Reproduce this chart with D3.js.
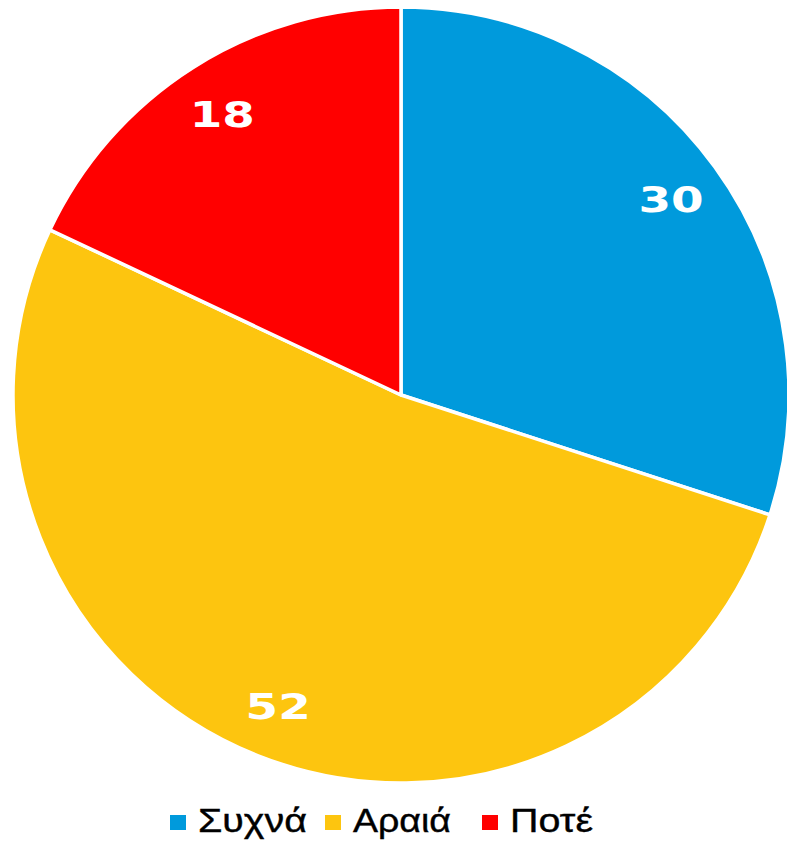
<!DOCTYPE html>
<html><head><meta charset="utf-8">
<script src="https://cdn.jsdelivr.net/npm/d3@7/dist/d3.min.js"></script>
<style>html,body{margin:0;padding:0;background:#fff;overflow:hidden}</style>
</head><body>
<svg id="chart" width="787" height="843"></svg>
<script>
const categories = ["Συχνά", "Αραιά", "Ποτέ"];
const values = [30, 52, 18];
const colors = ["#009ADC", "#FDC50F", "#FF0000"];

const svg = d3.select("#chart");
const cx = 401, cy = 395, R = 388;
const g = svg.append("g").attr("transform", `translate(${cx},${cy})`);
const pie = d3.pie().sort(null).value(d => d)(values);
const arc = d3.arc().innerRadius(0).outerRadius(R);
const labelArc = d3.arc().innerRadius(R * 0.86).outerRadius(R * 0.86);

g.selectAll("path").data(pie).join("path")
  .attr("d", arc)
  .attr("fill", (d, i) => colors[i])
  .attr("stroke", "#fff")
  .attr("stroke-width", 3.5)
  .attr("stroke-linejoin", "round");

g.selectAll("text.lbl").data(pie).join("text")
  .attr("class", "lbl")
  .attr("transform", d => { const [x, y] = labelArc.centroid(d); return `translate(${x},${y + 1}) scale(1.3,1)`; })
  .attr("text-anchor", "middle")
  .attr("dominant-baseline", "central")
  .attr("font-family", "DejaVu Sans, sans-serif")
  .attr("font-weight", "bold")
  .attr("font-size", 36)
  .attr("fill", "#fff")
  .text(d => d.data);

// legend
const legendX = [170, 325, 482];
const legendW = [109, 98, 83];
const lg = svg.append("g");
categories.forEach((c, i) => {
  lg.append("rect").attr("x", legendX[i]).attr("y", 815).attr("width", 16).attr("height", 15).attr("fill", colors[i]);
  lg.append("text").attr("x", legendX[i] + 28).attr("y", 832)
    .attr("font-family", "Liberation Sans, Arial, sans-serif")
    .attr("font-size", 34)
    .attr("textLength", legendW[i])
    .attr("lengthAdjust", "spacingAndGlyphs")
    .attr("fill", "#000")
    .attr("stroke", "#000")
    .attr("stroke-width", 0.4)
    .text(c);
});
</script>
</body></html>
